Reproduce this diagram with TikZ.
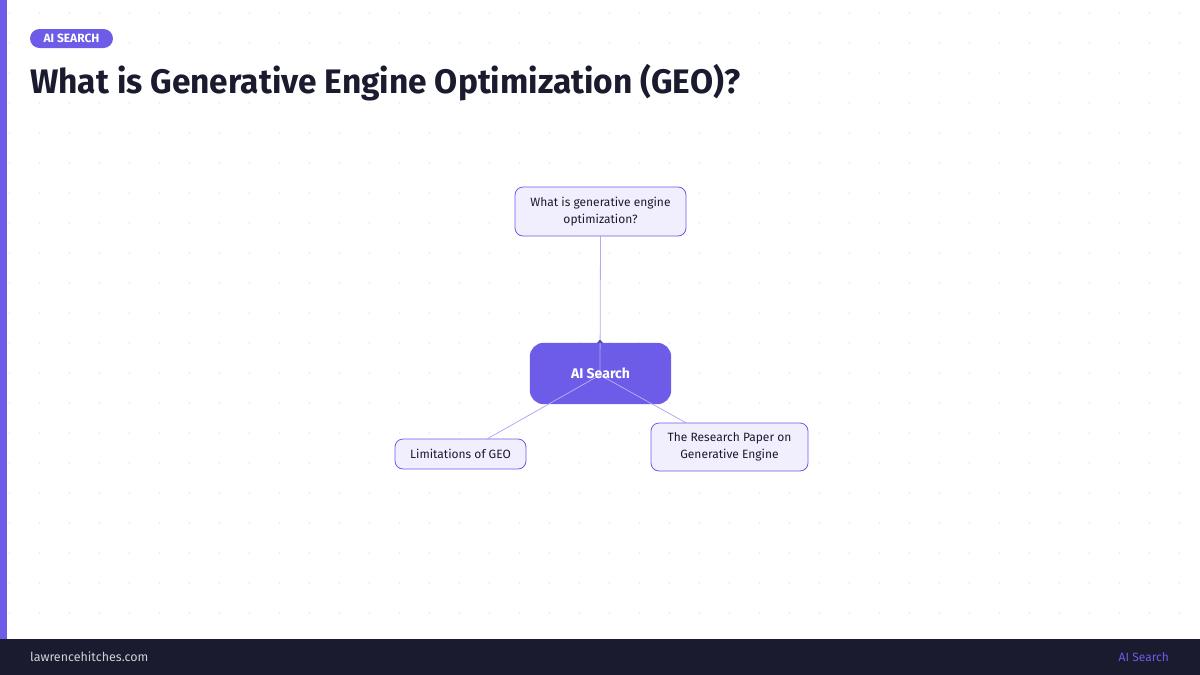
\documentclass[tikz,border=0pt]{standalone}
\usepackage{fontspec}
\usepackage{graphicx}
\usetikzlibrary{backgrounds}
\setmainfont{Fira Sans}
\definecolor{brand}{HTML}{6C5CE7}
\definecolor{ink}{HTML}{1B1B2F}
\definecolor{lav}{HTML}{F1EFFD}
\definecolor{edgec}{HTML}{B3ABF3}
\definecolor{dotc}{HTML}{EEEEF2}
\definecolor{foot}{HTML}{D0D0D8}
\tikzset{
  child/.style={draw=brand, line width=0.8pt, fill=lav, rounded corners=8pt, text=ink, font=\fontsize{12}{17.5}\selectfont, align=center, inner sep=0pt},
  hub/.style={rounded corners=14pt, inner sep=0pt},
  link/.style={draw=edgec, line width=0.8pt},
}
\begin{document}
\begin{tikzpicture}[x=1pt,y=-1pt]
\useasboundingbox (0,0) rectangle (1200,675);
\begin{scope}[on background layer]
\fill[white] (0,0) rectangle (1200,675);
% dot grid
\foreach \i in {0,...,39}{\foreach \j in {0,...,20}{
  \fill[dotc] (9.5+30*\i,13+30*\j) circle (1.1pt);
}}
\end{scope}
% left bar and footer
\fill[brand] (0,0) rectangle (7,639);
\fill[ink] (0,639) rectangle (1200,675);
\node[anchor=west, text=foot, font=\fontsize{12.5}{14}\selectfont, inner sep=0pt] (site) at (30,657) {lawrencehitches.com};
\node[anchor=east, text=brand, font=\fontsize{12}{14}\selectfont, inner sep=0pt] (foottag) at (1169,657) {AI Search};
% tag pill
\node[fill=brand, rounded corners=9.5pt, minimum width=83pt, minimum height=19pt, inner sep=0pt, text=white, font=\fontsize{12}{14}\selectfont\bfseries] (tag) at (71.5,38.5) {AI SEARCH};
% title
\node[anchor=base west, text=ink, inner sep=0pt, font=\fontsize{34}{40}\selectfont\bfseries] (title) at (30,93) {\resizebox{710pt}{\height}{What is Generative Engine Optimization (GEO)?}};
% hub (shape filled on background layer so connectors show across it)
\node[hub, minimum width=141pt, minimum height=61pt, text=white, font=\fontsize{14}{16}\selectfont\bfseries] (hub) at (600.5,373.5) {AI Search};
\coordinate (hc) at (600,375);
% children
\node[child, minimum width=171pt, minimum height=49pt] (q) at (600.5,211.5) {What is generative engine\\optimization?};
\node[child, minimum width=131pt, minimum height=30pt] (lim) at (460.5,454) {Limitations of GEO};
\node[child, minimum width=157pt, minimum height=48pt] (paper) at (729.5,447) {The Research Paper on\\Generative Engine};
% connectors (over hub fill, under children and hub label)
\begin{scope}[on background layer]
\fill[brand, rounded corners=14pt] (hub.south west) rectangle (hub.north east);
\draw[link] (q.south) -- (hc);
\draw[link] (hc) -- (lim);
\draw[link] (hc) -- (paper);
\fill[brand!80!black] (597,343) -- (603,343) -- (600,339.5) -- cycle;
\end{scope}
\end{tikzpicture}
\end{document}
